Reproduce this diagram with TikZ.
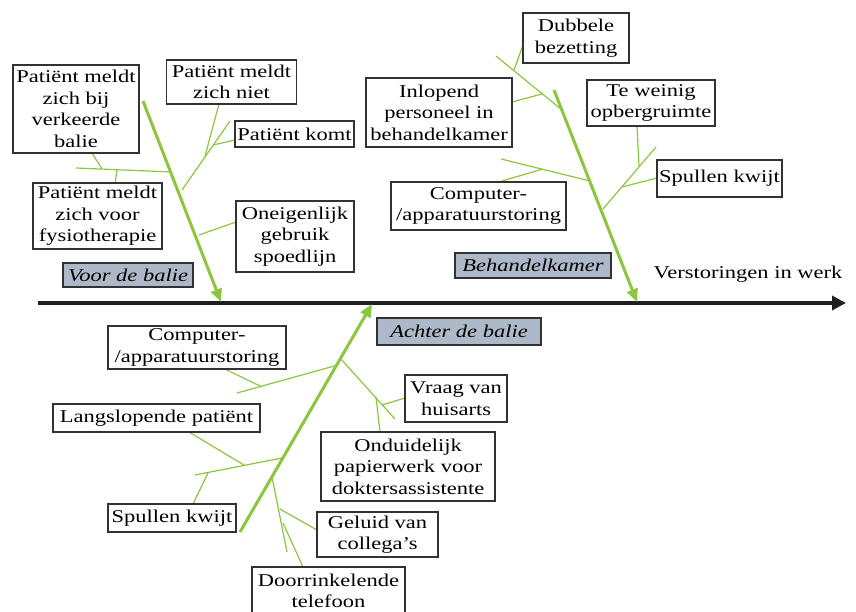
\documentclass[tikz,border=0pt]{standalone}
\usepackage{fontspec}
\setmainfont[FakeStretch=1.25]{Liberation Serif}
\usetikzlibrary{arrows.meta}
\definecolor{bone}{RGB}{140,198,63}
\definecolor{labgrey}{RGB}{173,185,200}
\definecolor{edge}{RGB}{50,50,50}
\tikzset{
  cause/.style={draw=edge, line width=1.2pt, fill=white, align=center, inner xsep=1pt, inner ysep=0pt,
    font=\fontsize{18}{21.5}\selectfont},
  cat/.style={draw=edge, line width=1.2pt, fill=labgrey, align=center, inner xsep=1pt, inner ysep=0pt,
    font=\fontsize{18}{21.5}\selectfont\itshape},
  mainbone/.style={draw=bone, line width=3pt, -{Triangle[length=13pt,width=11pt]}},
  branch/.style={draw=bone, line width=1.2pt},
  axis/.style={draw=black!88, line width=4pt, -{Triangle[length=14pt,width=14pt]}}
}
\begin{document}
\begin{tikzpicture}[x=1pt,y=-1pt]
\useasboundingbox (0,0) rectangle (856,612);
% main axis
\coordinate (axL) at (38,303);
\coordinate (axR) at (846,303);
\draw[axis] (axL) -- (axR);
\node[font=\fontsize{18}{21.5}\selectfont] (eff) at (748,274) {Verstoringen in werk};

% bones
\coordinate (tlA) at (143,101); \coordinate (tlB) at (221,302);
\coordinate (trA) at (554,90);  \coordinate (trB) at (637,302);
\coordinate (bA) at (240,532);  \coordinate (bB) at (372,304);

% ---------- top left branches
\draw[branch] (76,168) coordinate (t1a) -- (172,172) coordinate (t1b);
\draw[branch] (92,153) coordinate (t2a) -- (102,169) coordinate (t2b);
\draw[branch] (115,184) coordinate (t3a) -- (117,170) coordinate (t3b);
\draw[branch] (182,190) coordinate (t4a) -- (230,121) coordinate (t4b);
\draw[branch] (219,104) coordinate (t5a) -- (205,156) coordinate (t5b);
\draw[branch] (235,140) coordinate (t6a) -- (213,145) coordinate (t6b);
\draw[branch] (236,222) coordinate (t7a) -- (199,235) coordinate (t7b);
% ---------- top right branches
\draw[branch] (496,56) coordinate (r1a) -- (562,110) coordinate (r1b);
\draw[branch] (523,45) coordinate (r2a) -- (514,70) coordinate (r2b);
\draw[branch] (512,102) coordinate (r3a) -- (542,94) coordinate (r3b);
\draw[branch] (501,159) coordinate (r4a) -- (590,181) coordinate (r4b);
\draw[branch] (502,181) coordinate (r5a) -- (543,169) coordinate (r5b);
\draw[branch] (603,209) coordinate (r6a) -- (656,147) coordinate (r6b);
\draw[branch] (637,126) coordinate (r7a) -- (639,166) coordinate (r7b);
\draw[branch] (657,178) coordinate (r8a) -- (622,187) coordinate (r8b);
% ---------- bottom branches
\draw[branch] (237,393) coordinate (b1a) -- (338,365) coordinate (b1b);
\draw[branch] (225,369) coordinate (b2a) -- (262,387) coordinate (b2b);
\draw[branch] (195,475) coordinate (b3a) -- (282,458) coordinate (b3b);
\draw[branch] (189,432) coordinate (b4a) -- (244,465) coordinate (b4b);
\draw[branch] (193,504) coordinate (b5a) -- (208,473) coordinate (b5b);
\draw[branch] (272,477) coordinate (b6a) -- (287,552) coordinate (b6b);
\draw[branch] (280,509) coordinate (b7a) -- (317,530) coordinate (b7b);
\draw[branch] (283,523) coordinate (b8a) -- (303,567) coordinate (b8b);
\draw[branch] (340,358) coordinate (b9a) -- (395,419) coordinate (b9b);
\draw[branch] (405,398) coordinate (b10a) -- (382,405) coordinate (b10b);
\draw[branch] (380,432) coordinate (b11a) -- (376,397) coordinate (b11b);

\draw[mainbone] (tlA) -- (tlB);
\draw[mainbone] (trA) -- (trB);
\draw[mainbone] (bA) -- (bB);

% ---------- top left boxes
\node[cause, minimum width=126pt, minimum height=88pt] (n1) at (76,109) {Patiënt meldt\\zich bij\\verkeerde\\balie};
\node[cause, minimum width=130pt, minimum height=44pt] (n2) at (231.5,82) {Patiënt meldt\\zich niet};
\node[cause, minimum width=119pt, minimum height=26pt] (n3) at (294.5,134) {Patiënt komt};
\node[cause, minimum width=129pt, minimum height=66pt] (n4) at (97.5,216) {Patiënt meldt\\zich voor\\fysiotherapie};
\node[cause, minimum width=118pt, minimum height=71pt] (n5) at (295,236.5) {Oneigenlijk\\gebruik\\spoedlijn};
\node[cat, minimum width=130pt, minimum height=24pt] (c1) at (128,275) {Voor de balie};
% ---------- top right boxes
\node[cause, minimum width=106pt, minimum height=50pt] (n7) at (576,38) {Dubbele\\bezetting};
\node[cause, minimum width=146pt, minimum height=69pt] (n8) at (439,112.5) {Inlopend\\personeel in\\behandelkamer};
\node[cause, minimum width=128pt, minimum height=46pt] (n9) at (651,103) {Te weinig\\opbergruimte};
\node[cause, minimum width=125pt, minimum height=37pt] (n10) at (719.5,178.5) {Spullen kwijt};
\node[cause, minimum width=175pt, minimum height=48pt] (n11) at (478.5,206) {Computer-\\/apparatuurstoring};
\node[cat, minimum width=156pt, minimum height=25pt] (c2) at (533,265.5) {Behandelkamer};
% ---------- bottom boxes
\node[cause, minimum width=178pt, minimum height=43pt] (n14) at (197,347.5) {Computer-\\/apparatuurstoring};
\node[cause, minimum width=207pt, minimum height=28pt] (n15) at (156.5,418) {Langslopende patiënt};
\node[cause, minimum width=128pt, minimum height=28pt] (n16) at (172,518) {Spullen kwijt};
\node[cause, minimum width=153pt, minimum height=48pt] (n17) at (328.5,591) {Doorrinkelende\\telefoon};
\node[cat, minimum width=164pt, minimum height=27pt] (c3) at (459,331.5) {Achter de balie};
\node[cause, minimum width=102pt, minimum height=47pt] (n19) at (456,398.5) {Vraag van\\huisarts};
\node[cause, minimum width=174pt, minimum height=69pt] (n20) at (408,466.5) {Onduidelijk\\papierwerk voor\\doktersassistente};
\node[cause, minimum width=121pt, minimum height=45pt] (n21) at (377.5,534.5) {Geluid van\\collega’s};
\end{tikzpicture}
\end{document}
